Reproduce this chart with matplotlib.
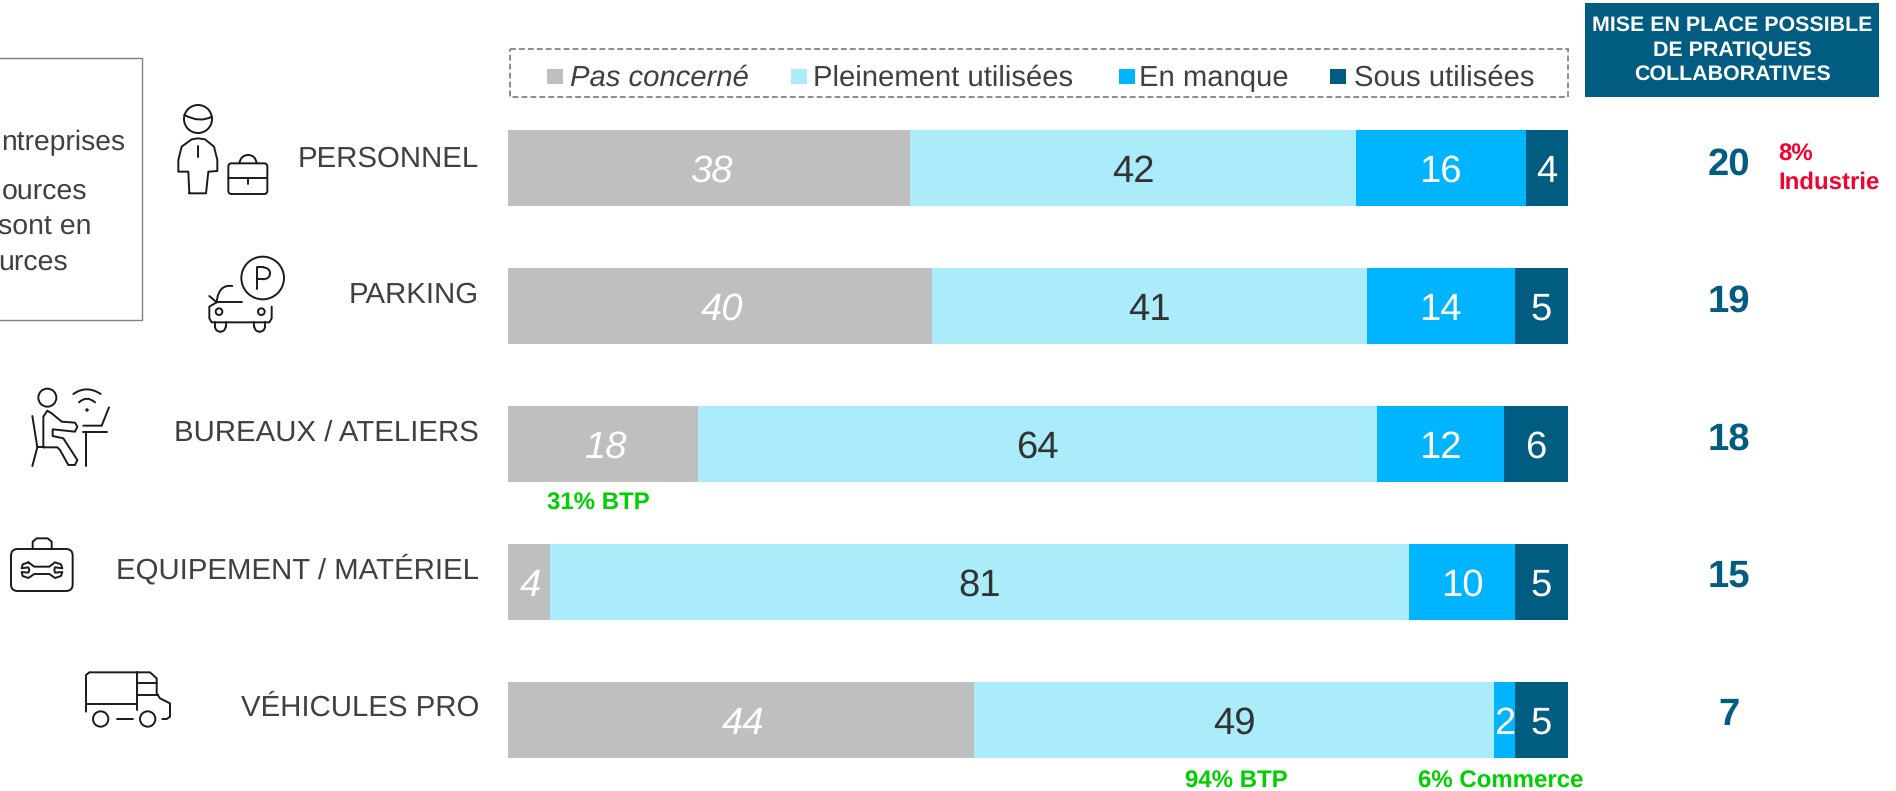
import matplotlib
matplotlib.use("Agg")
import matplotlib.pyplot as plt
from matplotlib.patches import Rectangle, Circle, FancyBboxPatch, PathPatch
from matplotlib.path import Path
import numpy as np

plt.rcParams['font.family'] = ['Liberation Sans', 'DejaVu Sans']
plt.rcParams['text.hinting'] = 'no_hinting'
plt.rcParams['text.hinting_factor'] = 8

categories = ["PERSONNEL", "PARKING", "BUREAUX / ATELIERS", "EQUIPEMENT / MATÉRIEL", "VÉHICULES PRO"]
series_names = ["Pas concerné", "Pleinement utilisées", "En manque", "Sous utilisées"]
pas_concerne = [38, 40, 18, 4, 44]
pleinement = [42, 41, 64, 81, 49]
en_manque = [16, 14, 12, 10, 2]
sous_utilisees = [4, 5, 6, 5, 5]
collaboratives = [20, 19, 18, 15, 7]
header_text = "MISE EN PLACE POSSIBLE\nDE PRATIQUES\nCOLLABORATIVES"

GREY, LIGHT, BLUE, DARK = "#BFBFBF", "#ABECFB", "#00B4FF", "#005C80"
TXT = "#404040"
GREEN, RED = "#00D000", "#F5002F"
W, H = 1896, 791

fig = plt.figure(figsize=(W / 100, H / 100), dpi=100, facecolor="white")

# bars
B_L, B_R, B_T, B_B = 507.5, 1568, 130, 758
ax = fig.add_axes([B_L / W, 1 - B_B / H, (B_R - B_L) / W, (B_B - B_T) / H])
ax.set_xlim(0, 100)
ax.set_ylim(4.275, -0.275)
ax.axis("off")
y = np.arange(len(categories))
left = np.zeros(len(categories))
series = [pas_concerne, pleinement, en_manque, sous_utilisees]
colors = [GREY, LIGHT, BLUE, DARK]
tcols = ["white", "#333333", "white", "white"]
for k, (vals, col, tc) in enumerate(zip(series, colors, tcols)):
    ax.barh(y, vals, left=left, height=0.55, color=col, linewidth=0)
    for i, v in enumerate(vals):
        ax.text(left[i] + v / 2 + (0.2 if k == 0 else 0), i, str(v), ha="center", va="center_baseline",
                color=tc, fontsize=27.5, style="italic" if k == 0 else "normal")
    left = left + np.array(vals)

# overlay in pixel coordinates
ov = fig.add_axes([0, 0, 1, 1], facecolor="none")
ov.set_xlim(0, W)
ov.set_ylim(H, 0)
ov.axis("off")

# header
ov.add_patch(Rectangle((1585, 3), 294, 94, fc=DARK, ec="none"))
ov.text(1732, 50, header_text, ha="center", va="center", color="white", fontsize=15.4,
        fontweight="bold", linespacing=1.34)

# legend box
ov.add_patch(Rectangle((510, 49), 1058, 48, fc="none", ec="#8C8C8C", lw=1.4, ls=(0, (3, 1.6))))
leg_sq = [547, 791, 1119, 1330]
leg_tx = [570, 813, 1139, 1354]
for name, c, sx, tx in zip(series_names, colors, leg_sq, leg_tx):
    ov.add_patch(Rectangle((sx, 69), 16, 15, fc=c, ec="none"))
    ov.text(tx, 75, name, ha="left", va="center_baseline", fontsize=21.1, color=TXT,
            style="italic" if name == "Pas concerné" else "normal")

# left box (cropped by the picture edge)
ov.add_patch(Rectangle((-5, 58), 147, 262, fc="none", ec="#808080", lw=1))
ov.text(1, 140.5, "ntreprises", ha="left", va="center_baseline", fontsize=20.3, color=TXT)
for s, xr, yy in [("ources", 87.5, 188.5), ("sont en", 91, 223.5), ("urces", 67.5, 259.5)]:
    ov.text(xr, yy, s, ha="right", va="center_baseline", fontsize=20.5, color=TXT)

# category labels
label_y = [156.5, 292.5, 430.5, 566, 705.5]
for c, ly in zip(categories, label_y):
    ov.text(479, ly, c, ha="right", va="center_baseline", fontsize=21.2, color=TXT)

# right numbers
num_y = [161, 298, 436, 573, 711]
for n, ny in zip(collaboratives, num_y):
    ov.text(1729, ny, str(n), ha="center", va="center_baseline", fontsize=27.5, fontweight="bold", color=DARK)

# annotations
BS = 17.3
ov.text(1778, 152, "8%", ha="left", va="center_baseline", fontsize=BS, fontweight="bold", color=RED)
ov.text(1778, 180, "Industrie", ha="left", va="center_baseline", fontsize=BS, fontweight="bold", color=RED)
ov.text(598.5, 501, "31% BTP", ha="center", va="center_baseline", fontsize=BS, fontweight="bold", color=GREEN)
ov.text(1236, 779, "94% BTP", ha="center", va="center_baseline", fontsize=BS, fontweight="bold", color=GREEN)
ov.text(1501, 779, "6% Commerce", ha="center", va="center_baseline", fontsize=BS, fontweight="bold", color=GREEN)

# icons
INK = "#1A1A1A"
LW = 1.4
def poly(pts, oy, close=False):
    p = [(a / 3, oy + b / 3) for a, b in pts]
    if close:
        p.append(p[0])
    xs, ys = zip(*p)
    ov.plot(xs, ys, color=INK, lw=LW, solid_capstyle="round", solid_joinstyle="round")
def curve(pts, oy):
    p = [(a / 3, oy + b / 3) for a, b in pts]
    codes = [Path.MOVETO] + [Path.CURVE3] * (len(p) - 1)
    ov.add_patch(PathPatch(Path(p, codes), fc="none", ec=INK, lw=LW, capstyle="round"))
def circ(cx, cy, r, oy):
    ov.add_patch(Circle((cx / 3, oy + cy / 3), r / 3, fc="none", ec=INK, lw=LW))
def rrect(x0, y0, x1, y1, r, oy):
    ov.add_patch(FancyBboxPatch((x0 / 3 + r / 3, oy + y0 / 3 + r / 3), (x1 - x0 - 2 * r) / 3, (y1 - y0 - 2 * r) / 3,
                                boxstyle=f"round,pad={r / 3}", fc="none", ec=INK, lw=LW))

# person and briefcase
o = 40
circ(594, 237, 42, o)
curve([(553, 225), (600, 250), (635, 230)], o)
poly([(568, 460), (565, 395), (535, 395), (535, 360), (545, 320), (575, 298), (594, 295), (615, 298),
      (642, 320), (652, 360), (652, 393), (625, 395), (618, 460)], o, True)
poly([(594, 318), (594, 352)], o)
rrect(685, 370, 802, 462, 10, o)
curve([(718, 370), (722, 345), (745, 345)], o)
curve([(745, 345), (766, 345), (770, 370)], o)
poly([(685, 415), (802, 415)], o)
poly([(743, 415), (743, 432)], o)

# car and P
circ(788, 714, 64, o)
poly([(772, 748), (772, 682), (790, 682)], o)
curve([(790, 682), (810, 684), (810, 700)], o)
curve([(810, 700), (810, 716), (790, 718)], o)
poly([(790, 718), (772, 718)], o)
curve([(697, 738), (655, 732), (650, 787)], o)
poly([(650, 787), (727, 787)], o)
poly([(628, 768), (650, 787)], o)
poly([(650, 787), (628, 800), (628, 835), (635, 847), (808, 847), (815, 835), (815, 800)], o)
circ(657, 815, 10, o)
circ(784, 815, 10, o)
for a in (645, 763):
    poly([(a, 847), (a, 860)], o)
    poly([(a + 32, 847), (a + 32, 860)], o)
    curve([(a, 860), (a + 2, 875), (a + 16, 875)], o)
    curve([(a + 16, 875), (a + 30, 875), (a + 32, 860)], o)

# desk
o = 370
circ(142, 83, 27, o)
curve([(220, 72), (260, 44), (302, 72)], o)
curve([(237, 97), (260, 75), (285, 97)], o)
ov.add_patch(Circle((261 / 3, o + 120 / 3), 1.7, fc=INK, ec="none"))
poly([(327, 112), (305, 167), (250, 167)], o)
poly([(250, 187), (322, 187)], o)
poly([(257, 187), (257, 288)], o)
poly([(97, 138), (112, 232), (97, 288)], o)
poly([(112, 232), (130, 232)], o)
poly([(130, 232), (130, 140), (142, 122), (155, 130), (185, 155), (225, 158), (232, 170), (225, 185),
      (158, 178), (158, 198), (190, 205), (232, 270), (225, 285), (205, 285), (180, 240), (172, 232), (130, 232)], o)

# toolbox
rrect(33, 537, 218, 663, 20, o)
poly([(98, 537), (98, 515), (110, 505), (143, 505), (155, 515), (155, 537)], o)
poly([(85, 577), (68, 583), (65, 595), (85, 592), (88, 600), (85, 608), (65, 606), (68, 618), (85, 624),
      (103, 612), (148, 612), (165, 624), (183, 618), (187, 606), (165, 608), (163, 600), (165, 592),
      (187, 595), (183, 583), (165, 577), (148, 590), (103, 590)], o, True)

# truck
poly([(258, 1025), (258, 915), (268, 907), (450, 907), (470, 925), (470, 970), (480, 985), (510, 1000),
      (510, 1040), (500, 1047), (487, 1047)], o)
poly([(258, 1003), (410, 1003)], o)
poly([(410, 907), (410, 1020)], o)
poly([(410, 940), (470, 940)], o)
poly([(410, 975), (475, 975)], o)
poly([(352, 1047), (400, 1047)], o)
circ(302, 1047, 23, o)
circ(443, 1047, 23, o)

fig.savefig("out.png", dpi=100, facecolor="white")
